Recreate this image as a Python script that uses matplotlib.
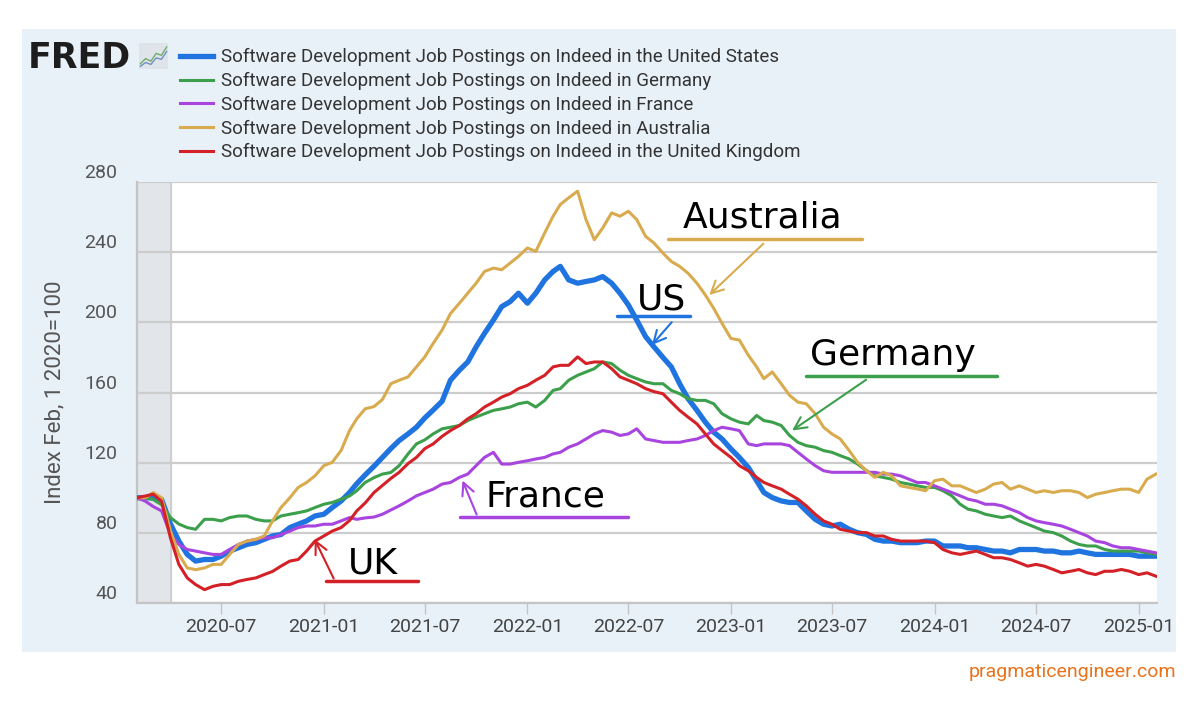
import numpy as np
import pandas as pd
import matplotlib
matplotlib.use("Agg")
import matplotlib.pyplot as plt
import matplotlib.dates as mdates

plt.rcParams['font.family'] = ['Roboto', 'DejaVu Sans']

# half-monthly readings, Feb 1 2020 .. Feb 1 2025 (index, Feb 1 2020 = 100)
months = pd.date_range('2020-02-01', '2025-02-01', freq='MS')
dates = months.union(months[:-1] + pd.Timedelta(days=15))

us = [100, 100, 100, 99, 85, 75.3, 67.7, 63.9, 64.8, 64.8,
      66.7, 69.6, 71.5, 73.4, 74.4, 76.3, 78.2, 79, 83, 84.9,
      86.8, 89.6, 90.6, 94.4, 98.2, 103, 108, 113, 118, 123,
      128, 132.6, 136.4, 140.2, 145.5, 150, 155, 167, 172.7, 177.4,
      186, 193.7, 201.3, 209, 211.8, 216.6, 210.9, 216.6, 224.2, 229,
      231.9, 224.2, 222.3, 223.3, 224.2, 226.1, 222.3, 216.6, 209.9, 201.3,
      191.8, 186, 180, 174.6, 165, 156.5, 149.8, 143.1, 137.4, 133.5,
      127.8, 123, 117.3, 109.7, 103, 100.1, 98.2, 97.3, 97.3, 92.5,
      87.7, 84.9, 83.9, 84.9, 82, 80.1, 79.1, 76.3, 75.3, 75.3,
      74.4, 74.4, 74.4, 75.3, 75.3, 72.5, 72.5, 72.5, 71.5, 71.5,
      70.5, 69.6, 69.6, 68.6, 70.5, 70.5, 70.5, 69.6, 69.6, 68.6,
      68.6, 69.6, 68.6, 67.7, 67.7, 67.7, 67.7, 67.7, 66.7, 66.7,
      66.7]
germany = [100, 100, 99, 96, 88.7, 85, 83, 82, 87.7, 87.7,
           86.8, 88.7, 89.6, 89.6, 87.7, 86.8, 86.8, 89.6, 90.6, 91.5,
           92.5, 94.4, 96.3, 97.3, 99.2, 101, 104, 108.7, 111.5, 113.5,
           114.4, 118.3, 125, 130.7, 133, 136.4, 139.3, 140.2, 141.2, 144,
           146, 147.9, 149.8, 150.7, 151.7, 153.6, 154.5, 151.7, 155.5, 161.2,
           162.2, 167, 169.8, 171.7, 173.6, 177.4, 176.5, 172.7, 169.8, 167.9,
           166, 165, 165, 161.2, 159.3, 156.5, 155.5, 155.5, 153.6, 147.9,
           145, 143.1, 142.1, 146.9, 144, 143.1, 141.2, 135.5, 131.6, 129.7,
           128.8, 126.9, 125.9, 124, 122.1, 119.2, 115.4, 112.5, 111.6, 110.6,
           108.7, 107.8, 106.8, 105.9, 105.9, 104, 101.1, 96.3, 93.5, 92.5,
           90.6, 89.6, 88.7, 89.6, 86.8, 84.9, 83, 81, 80.1, 78.2,
           75.3, 73.4, 72.5, 72.5, 70.5, 69.6, 69.6, 69.6, 69.6, 68.6,
           67.7]
france = [100, 98, 95, 92.5, 79, 73.4, 70.5, 69.6, 68.6, 67.7,
          67.7, 70.5, 73.4, 75.3, 76.3, 77.2, 77.2, 79, 81, 83,
          83.9, 83.9, 84.9, 84.9, 86.8, 88.7, 87.7, 88.5, 89, 90.6,
          93, 95.4, 98.2, 101.1, 103, 104.9, 107.8, 108.7, 111.6, 113.5,
          118.3, 123, 125.9, 119.2, 119.2, 120.2, 121.1, 122.1, 123, 125,
          125.9, 128.8, 130.7, 133.5, 136.4, 138.3, 137.4, 135.5, 136.4, 139.3,
          133.5, 132.6, 131.6, 131.6, 131.6, 132.6, 133.5, 135.5, 138.3, 140.2,
          139.3, 138.3, 130.7, 129.7, 130.7, 130.7, 130.7, 129.7, 125.9, 122.1,
          118.3, 115.4, 114.5, 114.5, 114.5, 114.5, 114.5, 114.5, 113.5, 113.5,
          112.5, 110.6, 108.7, 108.7, 106.8, 104.9, 103, 101.1, 99.2, 98.2,
          96.3, 96.3, 95.4, 93.5, 91.5, 88.7, 86.8, 85.8, 84.9, 83.9,
          82, 80.1, 78.2, 75.3, 74.4, 72.5, 71.5, 71.5, 70.5, 69.6,
          68.6]
australia = [100, 100, 103, 100, 81, 67.7, 60, 59, 60, 62,
             62, 67.7, 73.4, 75.3, 76.3, 78.2, 86.8, 94.4, 100, 105.9,
             108.7, 112.5, 118.3, 120.2, 127, 138.3, 145, 150.7, 152, 156,
             165, 167, 168.9, 174.6, 180.3, 188, 195.6, 205, 210.9, 216.6,
             222.3, 229, 230.9, 230, 233.8, 237.6, 242.4, 240.4, 251, 260.5,
             267.2, 271, 274.8, 258.6, 247.1, 253.8, 262.4, 260.5, 263.3, 258.6,
             249, 245.2, 239.5, 234.7, 231.9, 228, 222.3, 215.6, 208, 199.4,
             190.8, 189.9, 181.3, 174.6, 167.9, 171.7, 165, 158.4, 154.5, 153.6,
             147.9, 140.2, 136.4, 133.5, 126.9, 120.2, 115.4, 111.6, 114.5, 112.5,
             106.8, 105.9, 105, 104, 109.7, 110.6, 106.8, 106.8, 104.9, 103,
             104.9, 107.8, 108.7, 104.9, 106.8, 104.9, 103, 104, 103, 104,
             104, 103, 100.1, 102, 103, 104, 104.9, 104.9, 103, 110.6,
             113.5]
uk = [100, 101, 102, 98, 77, 62, 54.3, 50.5, 47.6, 49.5,
      50.5, 50.5, 52.4, 53.4, 54.3, 56.2, 58, 61, 63.9, 64.8,
      69.6, 75.3, 78.2, 81, 83, 87, 92.5, 97, 103, 107,
      111, 114.5, 119.5, 123, 128, 130.7, 135, 138.3, 141.2, 145,
      147.9, 151.7, 154.5, 157.4, 159.3, 162.2, 164.1, 167, 169.8, 174.6,
      175.5, 175.5, 180.3, 176.5, 177.4, 177.4, 173.6, 168.9, 167, 165,
      162.2, 160.5, 159.3, 154.5, 149.8, 146, 142.1, 136.4, 130.7, 126.9,
      123, 118.3, 115.4, 111.6, 108.7, 106.8, 104.9, 102, 99.2, 95.4,
      90.6, 86.8, 84.9, 82, 81, 80.1, 80.1, 78.2, 78.2, 76.3,
      75.3, 75.3, 75.3, 75.3, 74.4, 70.5, 68.6, 67.7, 68.6, 69.6,
      67.7, 65.8, 65.8, 64.8, 62.9, 61, 62, 61, 59.1, 57.2,
      58.1, 59.1, 57.2, 56.2, 58.1, 58.1, 59.1, 58.1, 56.2, 57.2,
      55.3]

base = 'Software Development Job Postings on Indeed in '
series_names = ['the United States', 'Germany', 'France', 'Australia', 'the United Kingdom']
series_vals = [us, germany, france, australia, uk]
colors = ['#1f74e0', '#3c9f4c', '#a845df', '#d9ab4f', '#d42027']
widths = [3.8, 2.2, 2.2, 2.2, 2.2]

yticks = [40, 80, 120, 160, 200, 240, 280]
xtick_dates = pd.date_range('2020-07-01', '2025-01-01', freq='6MS')

# little chart glyph next to the FRED wordmark
icon_x = [0, 1, 2, 3, 4, 5]
icon_green = [0.8, 1.6, 1.2, 2.4, 2.1, 3.4]
icon_blue = [0.4, 1.0, 0.7, 1.7, 1.5, 2.7]

# hand-drawn notes: label, colour, text pos, underline, arrow start, arrow end (axes fraction)
notes = [
    ('Australia', '#d9ab4f', (0.613, 0.915), (0.521, 0.711, 0.865), (0.616, 0.858), (0.559, 0.727)),
    ('US', '#1f74e0', (0.514, 0.720), (0.471, 0.542, 0.682), (0.526, 0.672), (0.503, 0.608)),
    ('Germany', '#3c9f4c', (0.741, 0.589), (0.656, 0.843, 0.539), (0.717, 0.534), (0.640, 0.406)),
    ('France', '#a845df', (0.400, 0.252), (0.317, 0.481, 0.204), (0.334, 0.204), (0.318, 0.297)),
    ('UK', '#d42027', (0.231, 0.095), (0.185, 0.275, 0.052), (0.194, 0.052), (0.173, 0.157)),
]

fig = plt.figure(figsize=(12, 7.06), dpi=100)
fig.patch.set_facecolor('white')

# light blue FRED panel behind everything
panel = fig.add_axes([0.0183, 0.0765, 0.9617, 0.8824], zorder=0)
panel.set_facecolor('#e8f0f8')
panel.set_xticks([])
panel.set_yticks([])
for s in panel.spines.values():
    s.set_visible(False)

ax = fig.add_axes([0.1142, 0.1459, 0.85, 0.5963], zorder=1)
ax.set_facecolor('white')

ax.axvspan(pd.Timestamp('2020-02-01'), pd.Timestamp('2020-04-01'), color='#e2e5e9', zorder=0.5)
ax.axvline(pd.Timestamp('2020-04-01'), color='#c9cbcf', lw=1.2, zorder=0.6)

for name, vals, c, w in zip(series_names, series_vals, colors, widths):
    ax.plot(dates, vals, color=c, lw=w, label=base + name, solid_joinstyle='round', zorder=3)

ax.set_ylim(40, 280)
ax.set_xlim(pd.Timestamp('2020-02-01'), pd.Timestamp('2025-02-03'))
ax.set_yticks(yticks)
ax.set_xticks(xtick_dates)
ax.xaxis.set_major_formatter(mdates.DateFormatter('%Y-%m'))
ax.grid(axis='y', color='#cccccc', lw=1.6)
ax.set_axisbelow(True)
for s in ['top', 'right']:
    ax.spines[s].set_visible(False)
for s in ['left', 'bottom']:
    ax.spines[s].set_color('#c4c4c4')
    ax.spines[s].set_linewidth(1.6)

ax.tick_params(axis='y', length=0, pad=14, labelsize=14, labelcolor='#555555')
for lab in ax.get_yticklabels():
    lab.set_va('bottom')
ax.tick_params(axis='x', length=8, width=1, color='#c4c4c4', pad=3, labelsize=14,
               labelcolor='#444444')
ax.set_ylabel('Index Feb, 1 2020=100', fontsize=16, color='#555555', labelpad=14)

leg = fig.legend(loc='upper left', bbox_to_anchor=(0.1425, 0.9448), frameon=False,
                 fontsize=13.5, handlelength=1.76, handletextpad=0.43, labelspacing=0.3,
                 borderpad=0)
for t in leg.get_texts():
    t.set_color('#333333')

fig.text(0.023, 0.918, 'FRED', fontsize=25, fontweight='bold', color='#1d1d1d',
         va='center', ha='left', family='DejaVu Sans')
icon = fig.add_axes([0.1158, 0.9023, 0.0242, 0.0368], zorder=2)
icon.set_facecolor('#dfe4ea')
icon.plot(icon_x, icon_green, color='#6fae6a', lw=1)
icon.plot(icon_x, icon_blue, color='#6f8fc0', lw=1)
icon.set_xticks([])
icon.set_yticks([])
icon.set_ylim(0, 4)
for s in icon.spines.values():
    s.set_visible(False)

for label, c, tpos, uline, a0, a1 in notes:
    ax.text(tpos[0], tpos[1], label, transform=ax.transAxes, fontsize=26, color='black',
            ha='center', va='center', zorder=6, family='DejaVu Sans')
    ax.plot([uline[0], uline[1]], [uline[2], uline[2]], transform=ax.transAxes, color=c,
            lw=2.5, zorder=6, solid_capstyle='round')
    ax.annotate('', xy=a1, xytext=a0, xycoords='axes fraction', textcoords='axes fraction',
                arrowprops=dict(arrowstyle='->', color=c, lw=1.5, mutation_scale=22), zorder=6)

fig.text(0.98, 0.048, 'pragmaticengineer.com', fontsize=14, color='#e8731c', ha='right',
         va='center')

fig.savefig('out.png', dpi=100)
